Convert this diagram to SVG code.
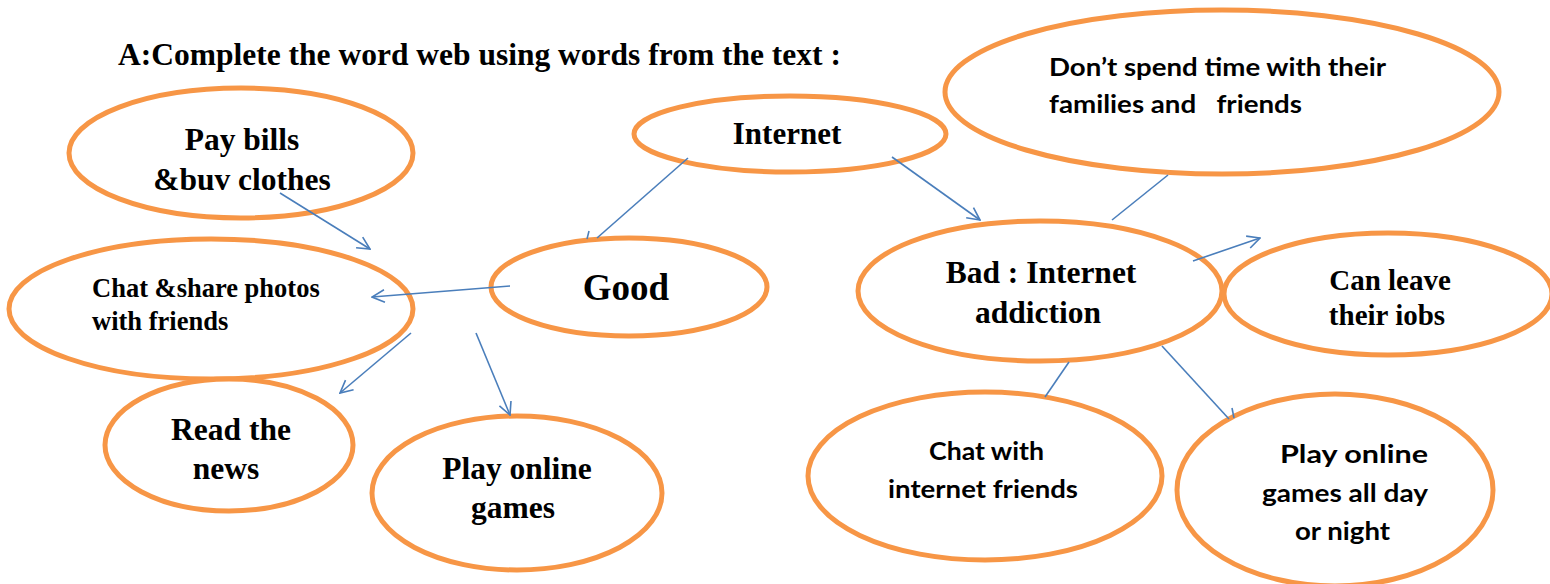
<svg xmlns="http://www.w3.org/2000/svg" width="1550" height="584" viewBox="0 0 1550 584">
<defs>
<style>
.n{fill:#fff;stroke:#F79646;stroke-width:5}
.t{font-family:"Liberation Serif","Times New Roman",serif;font-weight:bold;font-size:31px;fill:#000;text-anchor:middle}
.c{font-family:Lato,"Liberation Sans",sans-serif;font-weight:bold;font-size:24px;fill:#000}
.e{fill:none;stroke:#4A7EBB;stroke-width:1.6}
</style>
<marker id="ah" viewBox="0 0 12 12" refX="11" refY="6" markerWidth="15" markerHeight="15" markerUnits="userSpaceOnUse" orient="auto">
<path d="M1,1 L11,6 L1,11" fill="none" stroke="#4A7EBB" stroke-width="1.3"/>
</marker>
</defs>
<rect width="1550" height="584" fill="#fff"/>
<text x="118" y="65" class="t" style="text-anchor:start;font-size:31.5px">A:Complete the word web using words from the text :</text>

<g id="dontspend"><ellipse class="n" cx="1222" cy="92" rx="277" ry="82"/>
<text class="c" x="1049" y="76" textLength="337" lengthAdjust="spacingAndGlyphs">Don’t spend time with their</text>
<text class="c" x="1049" y="113" textLength="253" lengthAdjust="spacingAndGlyphs" xml:space="preserve">families and   friends</text></g>

<g id="internet"><ellipse class="n" cx="790" cy="134" rx="156" ry="38"/>
<text class="t" x="787" y="144">Internet</text></g>

<g id="paybills"><ellipse class="n" cx="241" cy="153" rx="172" ry="65"/>
<text class="t" x="242" y="150" style="font-size:31.5px">Pay bills</text>
<text class="t" x="242" y="190" style="font-size:31.5px">&amp;buv clothes</text></g>

<g id="chatshare"><ellipse class="n" cx="211" cy="309" rx="202" ry="70"/>
<text class="t" x="92" y="297" style="text-anchor:start;font-size:26.5px">Chat &amp;share photos</text>
<text class="t" x="92" y="330" style="text-anchor:start;font-size:26.5px">with friends</text></g>

<g id="good"><ellipse class="n" cx="629" cy="287" rx="138" ry="49"/>
<text class="t" x="626" y="300" style="font-size:37px">Good</text></g>

<g id="readnews"><ellipse class="n" cx="229" cy="445" rx="124" ry="66"/>
<text class="t" x="231" y="440" style="font-size:31.5px">Read the</text>
<text class="t" x="226" y="479" style="font-size:31.5px">news</text></g>

<g id="playgames"><ellipse class="n" cx="517" cy="493" rx="145" ry="77"/>
<text class="t" x="517" y="479" style="font-size:31.5px">Play online</text>
<text class="t" x="513" y="518" style="font-size:31.5px">games</text></g>

<g id="bad"><ellipse class="n" cx="1040" cy="291" rx="182" ry="70"/>
<text class="t" x="1041" y="283" style="font-size:31.5px">Bad : Internet</text>
<text class="t" x="1038" y="323" style="font-size:31.5px">addiction</text></g>

<g id="leavejobs"><ellipse class="n" cx="1388" cy="294" rx="164" ry="61"/>
<text class="t" x="1390" y="290" style="font-size:29px">Can leave</text>
<text class="t" x="1387" y="325" style="font-size:29px">their iobs</text></g>

<g id="chatinternet"><ellipse class="n" cx="985" cy="476" rx="177" ry="84"/>
<text class="c" x="929" y="460" textLength="115" lengthAdjust="spacingAndGlyphs">Chat with</text>
<text class="c" x="888" y="498" textLength="190" lengthAdjust="spacingAndGlyphs">internet friends</text></g>

<g id="playallday"><ellipse class="n" cx="1335" cy="490" rx="158" ry="96"/>
<text class="c" x="1280" y="463" textLength="148" lengthAdjust="spacingAndGlyphs">Play online</text>
<text class="c" x="1262" y="502" textLength="166" lengthAdjust="spacingAndGlyphs">games all day</text>
<text class="c" x="1295" y="540" textLength="95" lengthAdjust="spacingAndGlyphs">or night</text></g>

<g id="connectors">
<line class="e" x1="280" y1="193" x2="370" y2="249" marker-end="url(#ah)"/>
<line class="e" x1="510" y1="286" x2="372" y2="297" marker-end="url(#ah)"/>
<line class="e" x1="411" y1="333" x2="340" y2="393" marker-end="url(#ah)"/>
<line class="e" x1="476" y1="333" x2="510" y2="415" marker-end="url(#ah)"/>
<line class="e" x1="688" y1="158" x2="597" y2="238"/>
<path d="M589,231 L587,239" class="e"/>
<line class="e" x1="892" y1="157" x2="980" y2="220" marker-end="url(#ah)"/>
<line class="e" x1="1112" y1="220" x2="1168" y2="175"/>
<line class="e" x1="1193" y1="261" x2="1260" y2="238" marker-end="url(#ah)"/>
<line class="e" x1="1069" y1="362" x2="1045" y2="397"/>
<line class="e" x1="1162" y1="346" x2="1229" y2="419"/>
<path d="M1232,408 L1234,418" class="e"/>
</g>
</svg>
